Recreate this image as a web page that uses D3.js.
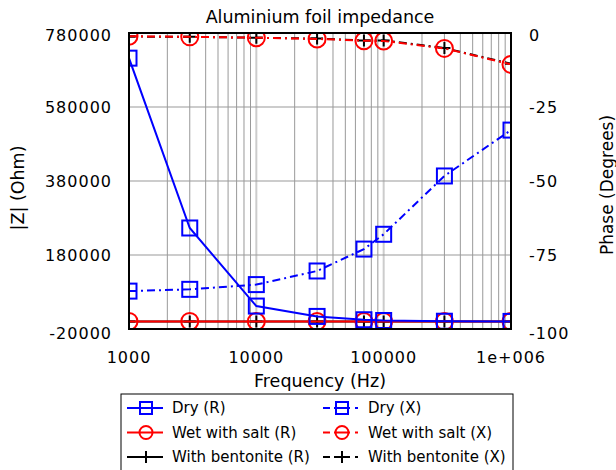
<!DOCTYPE html>
<html>
<head>
<meta charset="utf-8">
<script src="https://cdn.jsdelivr.net/npm/d3@7"></script>
<style>
body { margin: 0; background: #fff; }
text { font-family: "DejaVu Sans", Verdana, sans-serif; fill: #000; }
</style>
</head>
<body>
<div class="chart"></div>
<script>
const freq = [1000, 3000, 10000, 30000, 70000, 100000, 300000, 1000000]
const dryR = [712000, 253000, 42000, 14000, 5000, 3000, 1000, 500]
const wetR = [500, 500, 400, 400, 300, 300, 300, 300]
const bentR = [300, 300, 300, 300, 200, 200, 200, 200]
const dryX = [-87.2, -86.6, -85.0, -80.4, -73.0, -68.0, -48.3, -32.8]
const wetX = [-1.1, -1.3, -1.6, -2.0, -2.6, -2.7, -5.2, -10.6]
const bentX = [-1.2, -1.3, -1.6, -1.9, -2.5, -2.5, -5.1, -10.4]

const leftTicks = [-20000, 180000, 380000, 580000, 780000]
const rightTicks = [-100, -75, -50, -25, 0]
const xTicks = [1000, 10000, 100000, 1000000]
const xTickLabels = ["1000", "10000", "100000", "1e+006"]

const width = 616, height = 470
const margin = {top: 33, right: 105, bottom: 141, left: 129}

const svg = d3.select(".chart").append("svg")
  .attr("width", width).attr("height", height)

const xScale = d3.scaleLog().domain([1000, 1000000]).range([margin.left, width - margin.right])
const yLeft = d3.scaleLinear().domain([-20000, 780000]).range([height - margin.bottom, margin.top])
const yRight = d3.scaleLinear().domain([-100, 0]).range([height - margin.bottom, margin.top])

const x0 = margin.left, x1 = width - margin.right, y0 = margin.top, y1 = height - margin.bottom

svg.append("clipPath").attr("id", "plotclip")
  .append("rect").attr("x", x0).attr("y", y0).attr("width", x1 - x0).attr("height", y1 - y0)

// grid
const grid = svg.append("g")
const minors = []
for (let dec = 1000; dec < 1000000; dec *= 10) {
  for (let k = 2; k <= 9; k++) minors.push(dec * k)
}
grid.selectAll(".minor").data(minors).join("line")
  .attr("x1", d => xScale(d)).attr("x2", d => xScale(d))
  .attr("y1", y0).attr("y2", y1)
  .attr("stroke", "#999").attr("stroke-width", 1)
grid.selectAll(".major").data(xTicks.slice(1, 3)).join("line")
  .attr("x1", d => xScale(d)).attr("x2", d => xScale(d))
  .attr("y1", y0).attr("y2", y1)
  .attr("stroke", "#ccc").attr("stroke-width", 2)
grid.selectAll(".hgrid").data(leftTicks.slice(1, 4)).join("line")
  .attr("x1", x0).attr("x2", x1)
  .attr("y1", d => yLeft(d)).attr("y2", d => yLeft(d))
  .attr("stroke", "#999").attr("stroke-width", 1)

// series, drawn bottom to top
const series = [
  {name: "With bentonite (R)", vals: bentR, y: yLeft, color: "#000", dash: null, marker: "plus"},
  {name: "With bentonite (X)", vals: bentX, y: yRight, color: "#000", dash: "8,4,2,4", marker: "plus"},
  {name: "Wet with salt (R)", vals: wetR, y: yLeft, color: "#f00", dash: null, marker: "circle"},
  {name: "Wet with salt (X)", vals: wetX, y: yRight, color: "#f00", dash: "8,4,2,4", marker: "circle"},
  {name: "Dry (R)", vals: dryR, y: yLeft, color: "#00f", dash: null, marker: "square"},
  {name: "Dry (X)", vals: dryX, y: yRight, color: "#00f", dash: "8,4,2,4", marker: "square"}
]

function drawMarker(g, type, cx, cy, color, size) {
  if (type === "circle") {
    g.append("circle").attr("cx", cx).attr("cy", cy).attr("r", size)
      .attr("fill", "none").attr("stroke", color).attr("stroke-width", 2)
  } else if (type === "square") {
    g.append("rect").attr("x", cx - size).attr("y", cy - size).attr("width", size * 2).attr("height", size * 2)
      .attr("fill", "none").attr("stroke", color).attr("stroke-width", 2)
  } else {
    g.append("path").attr("d", `M${cx - 6},${cy}H${cx + 6}M${cx},${cy - 6}V${cy + 6}`)
      .attr("stroke", color).attr("stroke-width", 2)
  }
}

const plot = svg.append("g").attr("clip-path", "url(#plotclip)")
series.forEach(s => {
  const pts = freq.map((f, i) => [xScale(f), s.y(s.vals[i])])
  plot.append("path")
    .attr("d", d3.line()(pts))
    .attr("fill", "none").attr("stroke", s.color).attr("stroke-width", 2)
    .attr("stroke-dasharray", s.dash)
  const mg = plot.append("g")
  pts.forEach(p => drawMarker(mg, s.marker, p[0], p[1], s.color, s.marker === "circle" ? 8.5 : 7.5))
})

// frame
svg.append("rect").attr("x", x0).attr("y", y0).attr("width", x1 - x0).attr("height", y1 - y0)
  .attr("fill", "none").attr("stroke", "#000").attr("stroke-width", 2)

// tick labels (end labels sit a little lower, as in the original)
const tickShift = (i, n) => i === 0 ? 4 : (i === n - 1 ? 2 : 0.5)
const tfs = 16
svg.selectAll(".lt").data(leftTicks).join("text")
  .attr("x", 112).attr("y", (d, i) => yLeft(d) + tickShift(i, leftTicks.length)).attr("dy", "0.36em")
  .attr("text-anchor", "end").attr("font-size", tfs).attr("letter-spacing", 1).text(d => d)
svg.selectAll(".rt").data(rightTicks).join("text")
  .attr("x", 529).attr("y", (d, i) => yRight(d) + tickShift(i, rightTicks.length)).attr("dy", "0.36em")
  .attr("font-size", tfs).attr("letter-spacing", 1).text(d => d)
svg.selectAll(".xt").data(xTicks).join("text")
  .attr("x", d => xScale(d)).attr("y", 357).attr("dy", "0.36em")
  .attr("text-anchor", "middle").attr("font-size", tfs).attr("letter-spacing", 1).text((d, i) => xTickLabels[i])

// titles
svg.append("text").attr("x", 320).attr("y", 381).attr("dy", "0.36em")
  .attr("text-anchor", "middle").attr("font-size", 17.5).text("Frequency (Hz)")
svg.append("text").attr("transform", "translate(18,188) rotate(-90)").attr("dy", "0.36em")
  .attr("text-anchor", "middle").attr("font-size", 17.5).text("|Z| (Ohm)")
svg.append("text").attr("transform", "translate(607,185) rotate(-90)").attr("dy", "0.36em")
  .attr("text-anchor", "middle").attr("font-size", 17).text("Phase (Degrees)")
svg.append("text").attr("x", 320).attr("y", 17).attr("dy", "0.36em")
  .attr("text-anchor", "middle").attr("font-size", 17.5).text("Aluminium foil impedance")

// legend
const legendOrder = ["Dry (R)", "Dry (X)", "Wet with salt (R)", "Wet with salt (X)", "With bentonite (R)", "With bentonite (X)"]
const legend = svg.append("g")
legend.append("rect").attr("x", 121).attr("y", 394).attr("width", 392).attr("height", 90)
  .attr("fill", "#fff").attr("stroke", "#000").attr("stroke-width", 1)
legendOrder.forEach((name, i) => {
  const s = series.find(d => d.name === name)
  const col = i % 2, row = Math.floor(i / 2)
  const lx = col === 0 ? 127 : 323
  const ly = 408 + row * 24.5
  if (s.dash) {
    legend.append("path").attr("d", `M${lx},${ly}H${lx + 7}M${lx + 32},${ly}H${lx + 35}`)
      .attr("stroke", s.color).attr("stroke-width", 2)
    legend.append("line").attr("x1", lx + 11).attr("x2", lx + 27).attr("y1", ly).attr("y2", ly)
      .attr("stroke", s.color).attr("stroke-width", 2)
  } else {
    legend.append("line").attr("x1", lx).attr("x2", lx + 36).attr("y1", ly).attr("y2", ly)
      .attr("stroke", s.color).attr("stroke-width", 2)
  }
  drawMarker(legend.append("g"), s.marker, lx + 19, ly, s.color, s.marker === "circle" ? 6.5 : 6)
  legend.append("text").attr("x", lx + 45).attr("y", ly).attr("dy", "0.36em")
    .attr("font-size", 15).text(name)
})
</script>
</body>
</html>
